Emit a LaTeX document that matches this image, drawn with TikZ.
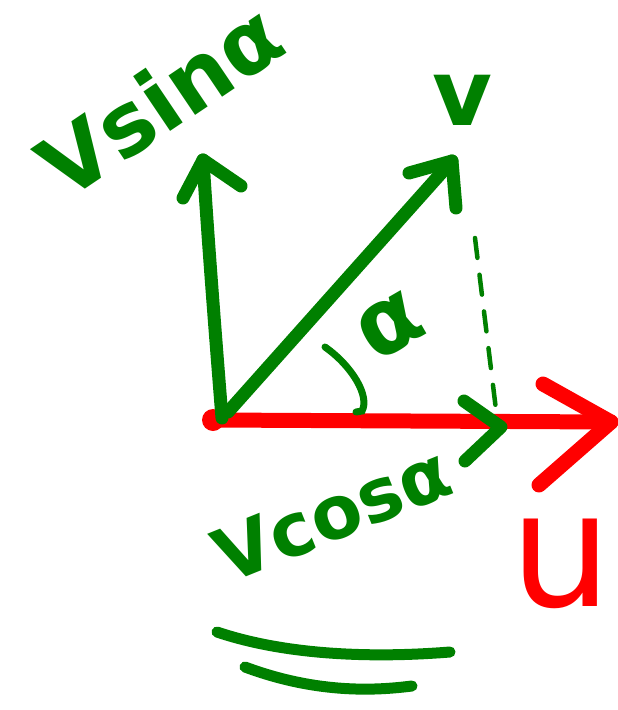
\documentclass[tikz,border=0pt]{standalone}
\usepackage{fontspec}
\newfontfamily\handfont{DejaVu Sans}
\definecolor{pgreen}{RGB}{0,128,0}
\definecolor{pred}{RGB}{255,0,0}
\begin{document}
\begin{tikzpicture}[x=1pt,y=-1pt,
  gstroke/.style={draw=pgreen,line width=13pt,line cap=round,line join=round},
  rstroke/.style={draw=pred,line width=15pt,line cap=round,line join=round},
  glabel/.style={text=pgreen,inner sep=0pt},
]
\useasboundingbox (0,0) rectangle (618,710);

% key points
\coordinate (O) at (222,418);
\coordinate (Ored) at (213,420);
\coordinate (Rend) at (611,422);
\coordinate (Rup) at (543,384);
\coordinate (Rdn) at (539,485);
\coordinate (Vtip) at (203,160);
\coordinate (Vl) at (183,198);
\coordinate (Vr) at (241,186);
\coordinate (Dtip) at (452,161);
\coordinate (Dl) at (409,173);
\coordinate (Dr) at (456,208);
\coordinate (Cdash0) at (475,238);
\coordinate (Cdash1) at (497,418);
\coordinate (Ctip) at (501,427);
\coordinate (Cu) at (464,401);
\coordinate (Cd) at (465,461);

% red horizontal arrow u
\fill[pred] (Ored) circle (11);
\draw[rstroke] (Ored) -- (Rend);
\draw[rstroke] (Rup) -- (Rend) -- (Rdn);

% dotted projection
\draw[pgreen,line width=4.5pt,dash pattern=on 20pt off 17pt,line cap=round] (Cdash0) -- (Cdash1);

% V cos alpha arrowhead on red line
\draw[gstroke] (Cu) -- (Ctip) -- (Cd);

% vertical arrow (V sin alpha)
\draw[gstroke] (O) .. controls (215,330) and (208,240) .. (Vtip);
\draw[gstroke] (Vl) -- (Vtip) -- (Vr);

% diagonal arrow (V)
\draw[gstroke] (228,412) -- (Dtip);
\draw[gstroke] (Dl) -- (Dtip) -- (Dr);

% angle mark
\draw[pgreen,line width=7pt,line cap=round] (325,347) .. controls (352,366) and (370,396) .. (362,411) -- (356,412);
\node[glabel,rotate=30,font={\handfont\bfseries\fontsize{92}{92}\selectfont}] (alpha) at (390,326) {α};

% labels
\node[glabel,rotate=34,font={\handfont\bfseries\fontsize{87}{87}\selectfont}] (vsin) at (160,100) {Vsinα};
\node[glabel,font={\handfont\bfseries\fontsize{92}{92}\selectfont}] (vlab) at (462,100) {v};
\node[glabel,rotate=22,font={\handfont\bfseries\fontsize{74}{74}\selectfont}] (vcos) at (332,514) {Vcosα};
\node[text=pred,inner sep=0pt,font={\handfont\fontsize{160}{160}\selectfont}] (ulab) at (561,563) {u};

% underlines
\draw[gstroke,line width=11pt] (217,632) .. controls (300,660) and (400,656) .. (450,652);
\draw[gstroke,line width=11pt] (245,667) .. controls (320,695) and (380,690) .. (412,686);
\end{tikzpicture}
\end{document}
